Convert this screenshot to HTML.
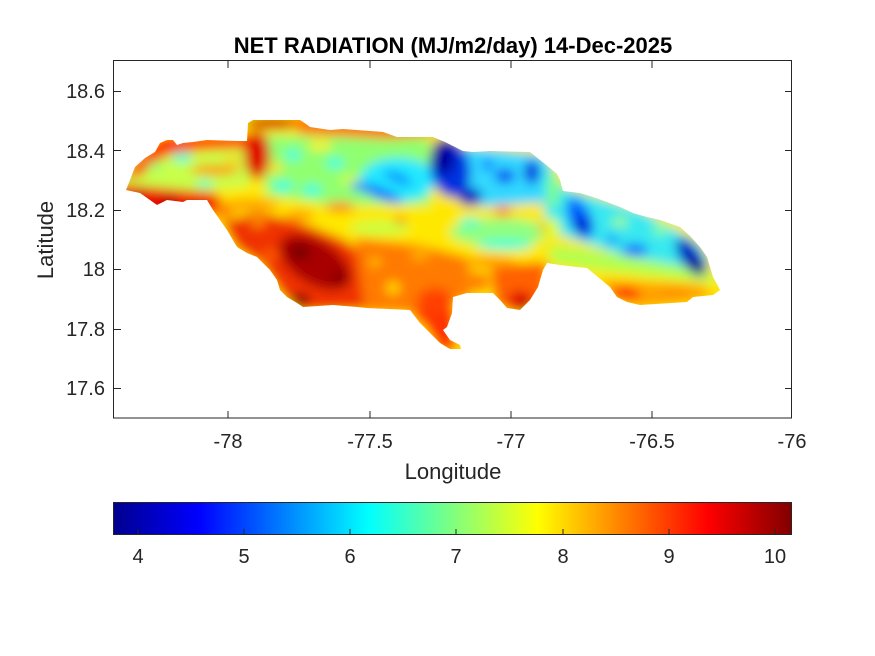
<!DOCTYPE html>
<html>
<head>
<meta charset="utf-8">
<style>
  html,body{margin:0;padding:0;background:#fff;}
  body{width:875px;height:656px;overflow:hidden;}
  svg{display:block;}
  text{font-family:"Liberation Sans",Arial,sans-serif;}
</style>
</head>
<body>
<svg width="875" height="656" viewBox="0 0 875 656" xmlns="http://www.w3.org/2000/svg">
  <defs>
    <clipPath id="isl">
      <path d="M126,190 L130,180 L135,167 L145,158 L155,152 L160,143 L167,140 L173,140 L177,145 L183,143 L193,142 L207,140 L237,141 L247,141 L248,123 L253,120 L300,120 L306,124 L310,127 L330,130 L343,129 L383,132 L397,137 L433,137 L445,142 L463,151 L473,152 L490,151 L530,152 L540,160 L550,168 L557,174 L560,180 L563,191 L580,193 L593,197 L607,202 L620,207 L633,213 L647,217 L660,220 L680,227 L690,236 L700,247 L707,257 L713,277 L720,290 L713,295 L693,297 L687,302 L640,305 L627,302 L617,297 L610,287 L587,268 L577,267 L560,265 L547,263 L543,270 L538,287 L530,300 L520,310 L507,308 L500,300 L493,293 L467,293 L453,297 L452,313 L447,327 L443,330 L450,340 L460,345 L461,349 L450,349 L440,343 L430,333 L420,323 L410,310 L367,308 L357,307 L333,305 L303,307 L297,303 L287,297 L280,290 L277,280 L270,270 L257,257 L247,253 L237,247 L227,230 L220,220 L213,210 L207,200 L187,200 L183,202 L167,200 L157,205 L150,200 L140,193 Z"/>
    </clipPath>
    <filter id="b" filterUnits="userSpaceOnUse" x="90" y="90" width="680" height="300">
      <feGaussianBlur stdDeviation="5.5"/>
    </filter>
    <linearGradient id="jet" x1="0" y1="0" x2="1" y2="0">
      <stop offset="0" stop-color="#00008F"/>
      <stop offset="0.125" stop-color="#0000FF"/>
      <stop offset="0.375" stop-color="#00FFFF"/>
      <stop offset="0.625" stop-color="#FFFF00"/>
      <stop offset="0.875" stop-color="#FF0000"/>
      <stop offset="1" stop-color="#800000"/>
    </linearGradient>
  </defs>

  <rect x="0" y="0" width="875" height="656" fill="#fff"/>

  <!-- map field -->
  <g clip-path="url(#isl)">
    <g filter="url(#b)">
      <rect x="100" y="100" width="650" height="280" fill="#FFE800"/>
      <polygon points="120,158 250,148 250,186 215,190 120,192" fill="#C8FF48"/>
      <polygon points="265,135 430,138 430,205 330,205 265,195" fill="#90FF70"/>
      <polygon points="465,146 545,155 562,185 548,202 480,207 465,185" fill="#30D8FF"/>
      <polygon points="540,158 565,188 640,210 700,243 712,265 690,268 620,255 560,235 545,220" fill="#38E8F0"/>
      <polygon points="550,245 620,255 700,270 715,275 715,283 600,270 550,262" fill="#B0FF50"/>
      <polygon points="600,280 700,285 715,295 690,302 640,308 610,296" fill="#FFA000"/>
      <polygon points="222,222 258,212 300,222 345,240 372,262 368,310 300,312 282,295 262,265 236,248" fill="#F03000"/>
      <polygon points="355,238 420,245 470,258 470,300 455,300 450,322 420,325 408,312 365,312" fill="#FF7A00"/>
      <polygon points="415,310 456,310 456,352 440,352" fill="#FF3000"/>
      <polygon points="490,265 548,262 545,300 520,315 495,305" fill="#FF6000"/>
      <polygon points="122,178 145,150 160,136 250,134 250,148 200,150 165,156 140,176" fill="#FF3000"/>
      <polygon points="118,184 160,188 215,193 226,206 216,216 118,216" fill="#F01000"/>
      <ellipse cx="168" cy="202" rx="10" ry="4" fill="#900000"/>
      <ellipse cx="140" cy="195" rx="8" ry="4" fill="#C00000"/>
      <ellipse cx="222" cy="212" rx="12" ry="7" fill="#FF8000"/>
      <ellipse cx="257" cy="155" rx="13" ry="24" fill="#E00000"/>
      <ellipse cx="272" cy="123" rx="28" ry="6" fill="#D00000"/>
      <polygon points="290,116 430,126 430,136 390,139 300,134" fill="#FF7000"/>
      <ellipse cx="215" cy="170" rx="25" ry="5" fill="#FF9000"/>
      <ellipse cx="182" cy="157" rx="10" ry="5" fill="#30FFE0"/>
      <ellipse cx="205" cy="184" rx="8" ry="4" fill="#40FFD0"/>
      <ellipse cx="155" cy="166" rx="8" ry="4" fill="#80FF80"/>
      <ellipse cx="232" cy="160" rx="8" ry="4" fill="#FFD000"/>
      <ellipse cx="293" cy="155" rx="8" ry="5" fill="#20FFF0"/>
      <ellipse cx="283" cy="186" rx="10" ry="5" fill="#20FFF0"/>
      <ellipse cx="312" cy="190" rx="10" ry="5" fill="#20FFF0"/>
      <ellipse cx="335" cy="163" rx="9" ry="5" fill="#20FFF0"/>
      <ellipse cx="320" cy="145" rx="12" ry="5" fill="#FFF000"/>
      <ellipse cx="275" cy="168" rx="8" ry="5" fill="#FFE000"/>
      <ellipse cx="350" cy="180" rx="10" ry="4" fill="#E0FF20"/>
      <ellipse cx="398" cy="180" rx="38" ry="22" fill="#20E8FF"/>
      <ellipse cx="380" cy="193" rx="24" ry="5" transform="rotate(22 380 193)" fill="#0050FF"/>
      <ellipse cx="398" cy="178" rx="15" ry="4" transform="rotate(22 398 178)" fill="#0070FF"/>
      <ellipse cx="360" cy="187" rx="10" ry="4" transform="rotate(22 360 187)" fill="#0080FF"/>
      <ellipse cx="505" cy="176" rx="10" ry="7" fill="#0040F0"/>
      <ellipse cx="532" cy="172" rx="8" ry="12" fill="#0030E0"/>
      <ellipse cx="488" cy="165" rx="6" ry="5" fill="#0060FF"/>
      <ellipse cx="450" cy="168" rx="20" ry="30" transform="rotate(-10 450 168)" fill="#0030E0"/>
      <ellipse cx="443" cy="157" rx="12" ry="18" fill="#0000A0"/>
      <ellipse cx="470" cy="197" rx="12" ry="9" fill="#0010C0"/>
      <ellipse cx="250" cy="205" rx="30" ry="6" fill="#FFA000"/>
      <ellipse cx="340" cy="207" rx="15" ry="5" fill="#FF8000"/>
      <ellipse cx="300" cy="215" rx="15" ry="5" fill="#FFA000"/>
      <ellipse cx="400" cy="222" rx="6" ry="5" fill="#FF3000"/>
      <ellipse cx="380" cy="228" rx="30" ry="7" fill="#C8FF40"/>
      <ellipse cx="500" cy="232" rx="50" ry="14" fill="#90FF80"/>
      <ellipse cx="505" cy="245" rx="28" ry="5" fill="#30FFE0"/>
      <ellipse cx="470" cy="222" rx="10" ry="5" fill="#40FFD0"/>
      <ellipse cx="503" cy="211" rx="9" ry="6" fill="#FF9000"/>
      <ellipse cx="315" cy="262" rx="40" ry="22" transform="rotate(32 315 262)" fill="#A80000"/>
      <ellipse cx="300" cy="252" rx="10" ry="7" fill="#700000"/>
      <ellipse cx="300" cy="300" rx="10" ry="6" fill="#780000"/>
      <ellipse cx="340" cy="278" rx="8" ry="6" fill="#800000"/>
      <ellipse cx="258" cy="222" rx="8" ry="5" fill="#FF9000"/>
      <ellipse cx="270" cy="255" rx="8" ry="5" fill="#FF6000"/>
      <ellipse cx="393" cy="288" rx="7" ry="6" fill="#FFE000"/>
      <ellipse cx="375" cy="262" rx="6" ry="5" fill="#FFC000"/>
      <ellipse cx="420" cy="255" rx="10" ry="5" fill="#FFB000"/>
      <ellipse cx="435" cy="302" rx="18" ry="14" fill="#FF4000"/>
      <ellipse cx="478" cy="282" rx="12" ry="10" fill="#FF8000"/>
      <ellipse cx="490" cy="262" rx="25" ry="6" fill="#FFA000"/>
      <ellipse cx="520" cy="300" rx="12" ry="9" fill="#E00000"/>
      <ellipse cx="525" cy="306" rx="6" ry="4" fill="#900000"/>
      <ellipse cx="550" cy="228" rx="10" ry="10" fill="#E0FF20"/>
      <ellipse cx="543" cy="228" rx="4" ry="4" fill="#FF9000"/>
      <ellipse cx="553" cy="190" rx="6" ry="18" fill="#80FF80"/>
      <ellipse cx="580" cy="218" rx="11" ry="22" transform="rotate(-25 580 218)" fill="#0060FF"/>
      <ellipse cx="582" cy="226" rx="8" ry="10" fill="#0010D0"/>
      <ellipse cx="635" cy="250" rx="13" ry="6" fill="#0060FF"/>
      <ellipse cx="612" cy="240" rx="8" ry="4" fill="#0090FF"/>
      <ellipse cx="660" cy="230" rx="8" ry="6" fill="#80FFA0"/>
      <ellipse cx="620" cy="222" rx="8" ry="5" fill="#A0FF60"/>
      <ellipse cx="691" cy="257" rx="10" ry="22" transform="rotate(-35 691 257)" fill="#0010C0"/>
      <ellipse cx="697" cy="266" rx="6" ry="9" transform="rotate(-35 697 266)" fill="#000080"/>
      <ellipse cx="625" cy="294" rx="15" ry="8" fill="#FF4000"/>
      <ellipse cx="675" cy="292" rx="15" ry="5" fill="#FF9000"/>
    </g>
  </g>

  <!-- axes box -->
  <g stroke="#262626" stroke-width="1" fill="none" shape-rendering="crispEdges">
    <rect x="113.5" y="60.5" width="678" height="357.5"/>
    <path d="M228,418 V411 M370,418 V411 M511,418 V411 M652,418 V411 M228,61 V68 M370,61 V68 M511,61 V68 M652,61 V68"/>
    <path d="M114,91.5 H121 M114,150.5 H121 M114,210.5 H121 M114,269.5 H121 M114,329.5 H121 M114,388.5 H121 M792,91.5 H785 M792,150.5 H785 M792,210.5 H785 M792,269.5 H785 M792,329.5 H785 M792,388.5 H785"/>
  </g>

  <text x="453" y="53" font-size="22" font-weight="bold" text-anchor="middle" fill="#000">NET RADIATION (MJ/m2/day) 14-Dec-2025</text>

  <g font-size="20" fill="#262626" text-anchor="middle">
    <text x="228" y="448">-78</text>
    <text x="370" y="448">-77.5</text>
    <text x="511" y="448">-77</text>
    <text x="652" y="448">-76.5</text>
    <text x="792" y="448">-76</text>
  </g>
  <g font-size="20" fill="#262626" text-anchor="end">
    <text x="105" y="98">18.6</text>
    <text x="105" y="158">18.4</text>
    <text x="105" y="217">18.2</text>
    <text x="105" y="276">18</text>
    <text x="105" y="336">17.8</text>
    <text x="105" y="395">17.6</text>
  </g>

  <text x="453" y="479" font-size="22" fill="#262626" text-anchor="middle">Longitude</text>
  <text transform="translate(53,240) rotate(-90)" font-size="22" fill="#262626" text-anchor="middle">Latitude</text>

  <rect x="114" y="502" width="678" height="33" fill="url(#jet)"/>
  <g stroke="#262626" stroke-width="1" fill="none" shape-rendering="crispEdges">
    <rect x="113.5" y="502.5" width="678" height="32"/>
    <path d="M138,535 V529 M244,535 V529 M350,535 V529 M456,535 V529 M563,535 V529 M669,535 V529 M775,535 V529"/>
  </g>
  <g font-size="20" fill="#262626" text-anchor="middle">
    <text x="138" y="563">4</text>
    <text x="244" y="563">5</text>
    <text x="350" y="563">6</text>
    <text x="456" y="563">7</text>
    <text x="563" y="563">8</text>
    <text x="669" y="563">9</text>
    <text x="775" y="563">10</text>
  </g>
</svg>
</body>
</html>
